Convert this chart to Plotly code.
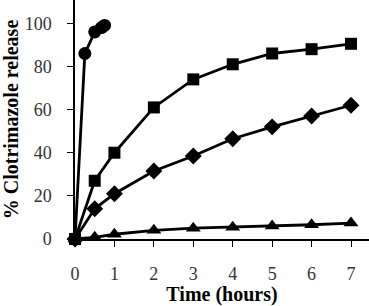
import plotly.graph_objects as go

# Data (time in hours, % released)
t_circle = [0, 0.25, 0.5, 0.67, 0.75]
circle = [0, 86, 96, 98, 99]

t_main = [0, 0.5, 1, 2, 3, 4, 5, 6, 7]
square = [0, 27, 40, 61, 74, 81, 86, 88, 90.5]
diamond = [0, 14, 21, 31.5, 38.5, 46.5, 52, 57, 62]
triangle = [0, 0.8, 2.2, 4, 5, 5.5, 6, 6.6, 7.4]

x_ticks = [0, 1, 2, 3, 4, 5, 6, 7]
y_ticks = [0, 20, 40, 60, 80, 100]

fig = go.Figure()
line = dict(color="black", width=2.8)
for x, y, sym, sz in [
    (t_main, triangle, "triangle-up", 13),
    (t_main, diamond, "diamond", 13),
    (t_main, square, "square", 12),
    (t_circle, circle, "circle", 13),
]:
    fig.add_trace(go.Scatter(x=x, y=y, mode="lines+markers", line=line,
                             marker=dict(symbol=sym, size=sz, color="black"),
                             cliponaxis=False, showlegend=False))

serif = "Liberation Serif"
fig.update_layout(
    width=369, height=306,
    margin=dict(l=75, r=0, t=0, b=67),
    plot_bgcolor="white", paper_bgcolor="white",
    font=dict(family=serif, size=18, color="black"),
)
common = dict(ticks="outside", ticklen=6, tickwidth=1.3, tickcolor="black",
              showline=True, linecolor="black", linewidth=1.5, showgrid=False,
              zeroline=False, ticklabelstandoff=12)
fig.update_xaxes(range=[0, 7.456], tickvals=x_ticks,
                 tickfont=dict(family=serif, size=18, color="#333"),
                 title_text="<b>Time (hours)</b>", title_font_size=20, title_standoff=5,
                 **common)
fig.update_yaxes(range=[0, 110.8], tickvals=y_ticks,
                 tickfont=dict(family=serif, size=18, color="#333"),
                 title_text="<b>% Clotrimazole release</b>", title_font_size=20, title_standoff=6,
                 **common)
fig.write_html("out.html")
